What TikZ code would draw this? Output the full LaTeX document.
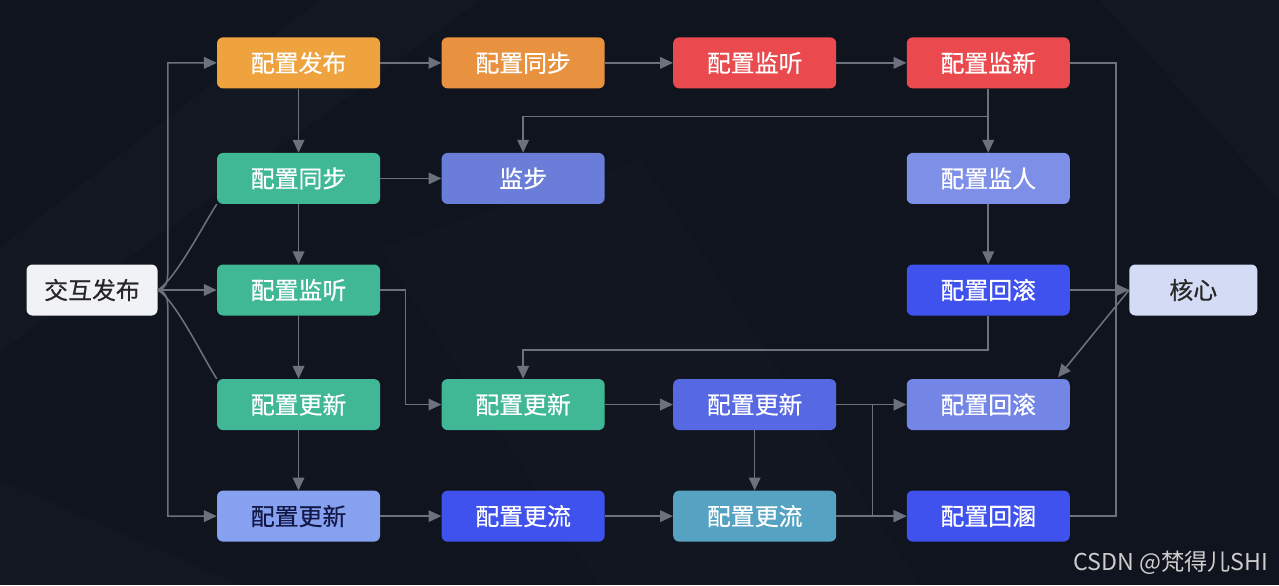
\documentclass[tikz,border=0pt]{standalone}
\usepackage{fontspec}
\setmainfont{Noto Sans CJK SC}
\newfontfamily\boxfont{Noto Sans CJK SC}[FakeBold=0.5]
\usetikzlibrary{arrows.meta, positioning, calc}
\definecolor{cBg}{HTML}{10141E}
\definecolor{cLine}{HTML}{6C717E}
\definecolor{cOrA}{HTML}{EFA33F}
\definecolor{cOrB}{HTML}{E8923F}
\definecolor{cRed}{HTML}{EA4A4D}
\definecolor{cGrn}{HTML}{40B896}
\definecolor{cVio}{HTML}{6A7DD8}
\definecolor{cLav}{HTML}{7E8FE8}
\definecolor{cBlu}{HTML}{4052EE}
\definecolor{cBlm}{HTML}{5668E2}
\definecolor{cSky}{HTML}{87A1F1}
\definecolor{cTeal}{HTML}{55A2C2}
\definecolor{cRolB}{HTML}{7386E6}
\definecolor{cCore}{HTML}{D4DCF5}
\definecolor{cStart}{HTML}{F1F2F5}

\begin{document}
\begin{tikzpicture}[
  box/.style={rounded corners=1.5mm, minimum width=40.75mm, minimum height=12.75mm, inner sep=0pt,
    text=white, font=\boxfont\fontsize{17}{20}\selectfont},
  orng/.style={box, fill=cOrA},
  orngd/.style={box, fill=cOrB},
  redb/.style={box, fill=cRed},
  grn/.style={box, fill=cGrn},
  vio/.style={box, fill=cVio},
  lav/.style={box, fill=cLav},
  blu/.style={box, fill=cBlu},
  blm/.style={box, fill=cBlm},
  sky/.style={box, fill=cSky, text=cBlu!30!black},
  teal/.style={box, fill=cTeal},
  rolb/.style={box, fill=cRolB},
  light/.style={box, minimum width=32.75mm, text=black!85},
  flow/.style={-{Triangle[length=3.2mm,width=2.9mm]}, line width=1.1pt, draw=cLine},
  link/.style={line width=1.1pt, draw=cLine},
]

% backdrop
\useasboundingbox (0,0) rectangle (319.75mm,-146.25mm);
\fill[cBg] (0,0) rectangle (319.75mm,-146.25mm);
\fill[white, opacity=0.015] (0,-62mm) -- (80mm,0) -- (120mm,0) -- (0,-88mm) -- cycle;
\fill[white, opacity=0.015] (0,-120mm) -- (60mm,-146.25mm) -- (0,-146.25mm) -- cycle;
\fill[white, opacity=0.015] (275mm,0) -- (319.75mm,0) -- (319.75mm,-50mm) -- cycle;
\fill[white, opacity=0.01] (95mm,-62mm) -- (160mm,-40mm) -- (230mm,-146.25mm) -- (150mm,-146.25mm) -- cycle;

% column 1 and column 2
\node[light, fill=cStart] (start) at (23mm,-72.5mm) {交互发布};
\node[grn, right=14.75mm of start] (lisA) {配置监听};
\node[grn, above=15mm of lisA] (synA) {配置同步};
\node[orng, above=16mm of synA] (pubA) {配置发布};
\node[grn, below=15.75mm of lisA] (updA) {配置更新};
\node[sky, below=15mm of updA] (updB) {配置更新};

% columns 3 to 5, row by row
\node[orngd, right=15.25mm of pubA] (synB) {配置同步};
\node[redb, right=17mm of synB] (lisB) {配置监听};
\node[redb, right=17.5mm of lisB] (newA) {配置监新};
\node[vio, right=15.25mm of synA] (mstep) {监步};
\node[lav, below=16mm of newA] (watch) {配置监人};
\node[blu, below=15mm of watch] (rollA) {配置回滚};
\node[light, fill=cCore, minimum width=32mm, right=14.75mm of rollA] (core) {核心};
\node[grn, right=15.25mm of updA] (updC) {配置更新};
\node[blm, right=17mm of updC] (updD) {配置更新};
\node[rolb, right=17.5mm of updD] (rollB) {配置回滚};
\node[blu, right=15.25mm of updB] (flwA) {配置更流};
\node[teal, right=17mm of flwA] (flwB) {配置更流};
\node[blu, right=17.5mm of flwB] (rollC) {配置回溷};

% fan out of the start box
\draw[flow] (start.east) to[out=0, in=-90] ++(2.5mm,4mm) |- (pubA.west);
\draw[flow] (start.east) to[out=0, in=90] ++(2.5mm,-4mm) |- (updB.west);
\draw[flow] (start) -- (lisA);
\draw[link] (start.east) to[out=30, in=236, looseness=0.5] (synA.south west);
\draw[link] (start.east) to[out=-30, in=124, looseness=0.5] (updA.north west);

% column 2 chain
\draw[flow] (pubA) -- (synA);
\draw[flow] (synA) -- (lisA);
\draw[flow] (lisA) -- (updA);
\draw[flow] (updA) -- (updB);

% top rows
\draw[flow] (pubA) -- (synB);
\draw[flow] (synB) -- (lisB);
\draw[flow] (lisB) -- (newA);
\draw[flow] (synA) -- (mstep);
\draw[flow] (newA) -- (watch);
\draw[flow] (newA.south) -- ++(0,-7mm) -| (mstep.north);
\draw[flow] (watch) -- (rollA);
\draw[flow] (rollA) -- (core);

% bus into the core
\coordinate (bus) at ($(core.west)+(-3.25mm,0)$);
\draw[link] (newA.east) -| (bus);
\draw[link] (rollC.east) -| (bus);
\draw[flow] (core.west) -- ($(rollB.north east)+(-3mm,0.4mm)$);

% lower rows
\draw[flow] (rollA.south) -- ++(0,-8.5mm) -| (updC.north);
\draw[flow] (lisA.east) -- ++(6.25mm,0) |- (updC.west);
\draw[flow] (updC) -- (updD);
\draw[flow] (updD) -- (rollB);
\draw[flow] (updD.east) -- ++(9mm,0) |- (rollC.west);
\draw[flow] (updD) -- (flwB);
\draw[flow] (updB) -- (flwA);
\draw[flow] (flwA) -- (flwB);
\draw[flow] (flwB) -- (rollC);

% watermark
\node[anchor=east, text=black!20, font=\fontsize{16.5}{18}\selectfont] (mark) at (318.3mm,-140.8mm) {CSDN @梵得儿SHI};

\end{tikzpicture}
\end{document}
